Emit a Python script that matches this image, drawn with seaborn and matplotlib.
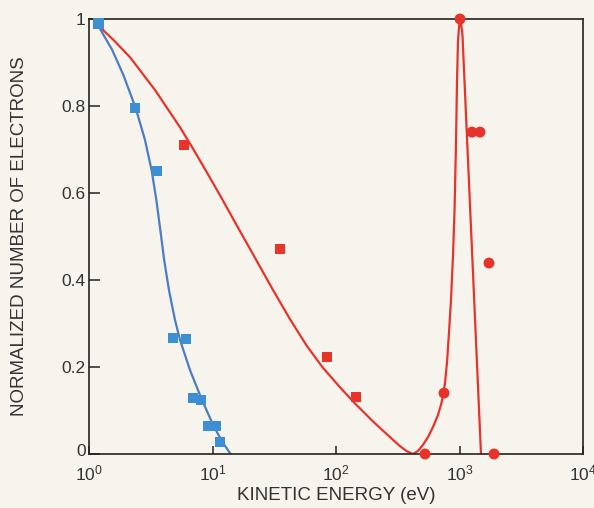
import matplotlib
matplotlib.use("Agg")
import matplotlib.pyplot as plt
import matplotlib.transforms as mtransforms
import seaborn as sns
import pandas as pd

# ---- data ----
blue_sq_E = [1.2, 2.36, 3.55, 4.79, 6.10, 6.95, 8.07, 9.20, 10.7, 11.5]
blue_sq_v = [0.99, 0.795, 0.651, 0.267, 0.264, 0.129, 0.124, 0.064, 0.064, 0.028]

blue_line_E = [1.18, 1.54, 1.90, 2.39, 2.84, 3.22, 3.51, 3.78, 4.06, 4.44,
               4.97, 5.46, 6.57, 8.22, 10.3, 12.2, 14.0]
blue_line_v = [0.986, 0.929, 0.871, 0.795, 0.722, 0.651, 0.584, 0.515, 0.446, 0.377,
               0.308, 0.262, 0.193, 0.124, 0.062, 0.025, 0.0]

red_sq_E = [5.88, 35.2, 84.6, 145]
red_sq_v = [0.710, 0.471, 0.223, 0.131]

red_dot_E = [526, 749, 1010, 1262, 1466, 1733, 1903]
red_dot_v = [0.0, 0.140, 1.0, 0.740, 0.740, 0.439, 0.0]

red_line_E = [1.18, 1.59, 2.15, 3.42, 5.46, 6.95, 9.02, 11.7, 15.2, 21.7,
              30.9, 42.4, 58.2, 78.5, 108, 145, 199, 259, 330, 376,
              420, 461, 506, 556, 610, 670, 708, 735, 763, 793,
              822, 853, 886, 912, 938, 955, 973, 1000, 1019, 1057, 1493]
red_line_v = [0.986, 0.951, 0.912, 0.837, 0.751, 0.702, 0.647, 0.591, 0.533, 0.455,
              0.377, 0.310, 0.248, 0.198, 0.153, 0.114, 0.075, 0.045, 0.018, 0.006,
              0.0, 0.007, 0.021, 0.039, 0.062, 0.090, 0.113, 0.133, 0.163, 0.212,
              0.279, 0.354, 0.457, 0.561, 0.722, 0.860, 0.952, 0.993, 1.0, 0.963, 0.0]

x_ticks = [1, 10, 100, 1000, 10000]
y_ticks = [0, 0.2, 0.4, 0.6, 0.8, 1.0]
y_tick_labels = ["0", "0.2", "0.4", "0.6", "0.8", "1"]

# ---- style ----
BG = "#f6f4ec"
RED = "#e8332b"
BLUE_M = "#3d8fd4"
BLUE_L = "#4d7cc2"

sns.set_theme(style="ticks")
plt.rcParams["font.family"] = ["Liberation Sans", "DejaVu Sans"]
plt.rcParams["mathtext.fontset"] = "custom"
plt.rcParams["mathtext.rm"] = "Liberation Sans"
plt.rcParams["mathtext.it"] = "Liberation Sans:italic"

fig = plt.figure(figsize=(5.94, 5.08), dpi=100, facecolor=BG)
ax = fig.add_axes([89 / 594, 1 - 454 / 508, (583 - 89) / 594, (454 - 19) / 508])
ax.set_facecolor(BG)

bl = pd.DataFrame({"E": blue_line_E, "v": blue_line_v})
rl = pd.DataFrame({"E": red_line_E, "v": red_line_v})
bs = pd.DataFrame({"E": blue_sq_E, "v": blue_sq_v})
rs = pd.DataFrame({"E": red_sq_E, "v": red_sq_v})
rd = pd.DataFrame({"E": red_dot_E, "v": red_dot_v})

sns.lineplot(data=rl, x="E", y="v", ax=ax, color=RED, lw=1.6, estimator=None, sort=False, zorder=2)
sns.lineplot(data=bl, x="E", y="v", ax=ax, color=BLUE_L, lw=1.6, estimator=None, sort=False, zorder=2)
sns.scatterplot(data=bs, x="E", y="v", ax=ax, marker="s", s=58, color=BLUE_M, edgecolor="none", zorder=3, clip_on=False)
sns.scatterplot(data=rs, x="E", y="v", ax=ax, marker="s", s=58, color=RED, edgecolor="none", zorder=3, clip_on=False)
sns.scatterplot(data=rd, x="E", y="v", ax=ax, marker="o", s=62, color=RED, edgecolor="none", zorder=3, clip_on=False)

ax.set_xscale("log")
ax.set_xlim(1, 10000)
ax.set_ylim(0, 1)
ax.set_xticks(x_ticks)
ax.minorticks_off()
ax.set_yticks(y_ticks)
ax.set_yticklabels(y_tick_labels)
ax.tick_params(axis="both", direction="in", colors="#222222", labelcolor="#333333",
               labelsize=12.5, width=1.1)
ax.tick_params(axis="y", length=8, pad=2.5)
ax.tick_params(axis="x", length=6, pad=6.5)

# nudge the "0" label slightly upward, as in the reference
zero_lbl = ax.get_yticklabels()[0]
zero_lbl.set_transform(zero_lbl.get_transform() +
                       mtransforms.ScaledTranslation(0, 4 / 100, fig.dpi_scale_trans))

for s in ax.spines.values():
    s.set_visible(True)
    s.set_color("#222222")
    s.set_linewidth(1.2)

ax.set_xlabel("KINETIC ENERGY (eV)", fontsize=13.5, color="#333333", labelpad=3)
ax.set_ylabel("NORMALIZED NUMBER OF ELECTRONS", fontsize=13.5, color="#333333", labelpad=24)

fig.savefig("out.png", dpi=100, facecolor=BG)
